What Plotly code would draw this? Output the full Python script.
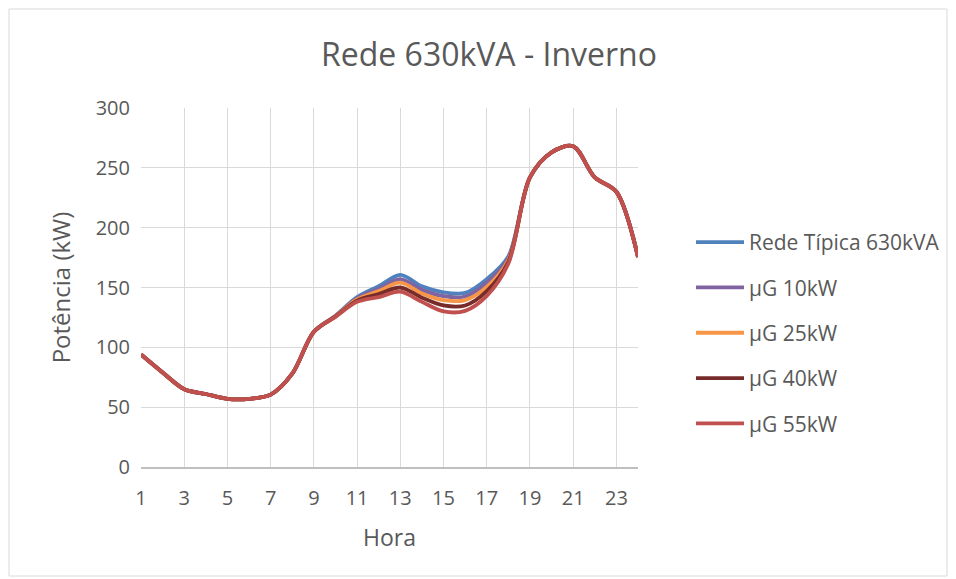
import plotly.graph_objects as go

hours = list(range(1, 25))
rede_tipica = [94, 79, 65, 61, 57, 57, 60.5, 78, 113, 126.5, 142, 151, 160.5, 151, 146, 145.5, 157, 176, 242, 263, 268, 242, 230, 175.5]
ug_10 = [94, 79, 65, 61, 57, 57, 60.5, 78, 113, 126.2, 141, 149, 157, 148, 142.7, 142.5, 154, 174.5, 242, 263, 268, 242, 230, 175.5]
ug_25 = [94, 79, 65, 61, 57, 57, 60.5, 78, 113, 126, 140, 147, 154, 145, 139.4, 139.5, 150.5, 173, 242, 263, 268, 242, 230, 175.5]
ug_40 = [94, 79, 65, 61, 57, 57, 60.5, 78, 113, 125.8, 139, 144.5, 150, 141.5, 135, 135, 147, 171.5, 242, 263, 268, 242, 230, 175.5]
ug_55 = [94, 79, 65, 61, 57, 57, 60.5, 78, 113, 125.5, 138, 142, 146.5, 138, 130, 130.5, 143, 170, 242, 263, 268, 242, 230, 175.5]

series_names = ["Rede Típica 630kVA", "µG 10kW", "µG 25kW", "µG 40kW", "µG 55kW"]
series_values = [rede_tipica, ug_10, ug_25, ug_40, ug_55]
colors = ["#4f81bd", "#8064a2", "#f79646", "#772c2a", "#c0504d"]

x_ticks = list(range(1, 25, 2))
y_ticks = list(range(0, 301, 50))

fig = go.Figure()
for i, (name, vals, col) in enumerate(zip(series_names, series_values, colors)):
    fig.add_trace(go.Scatter(
        x=hours, y=vals, name=name, mode="lines",
        line=dict(color=col, width=3.8, shape="spline", smoothing=0.9),
        legendgroup=f"g{i}",
    ))

# page offset of 8px (body margin)
OFF = 8
L, R, T, B = 141, 638, 108, 467
W, H = 956, 579

def px(x):
    return (x - L) / (R - L)

def py(y):
    return (B - y) / (B - T)

fig.add_shape(type="rect", xref="paper", yref="paper",
              x0=px(9), x1=px(947), y0=py(576), y1=py(9),
              line=dict(color="#d9d9d9", width=1), layer="below")

fig.update_layout(
    width=W, height=H,
    margin=dict(l=L - OFF, r=W - R + OFF, t=T - OFF, b=H - B + OFF),
    paper_bgcolor="white", plot_bgcolor="white",
    font=dict(family="Open Sans", color="#595959", size=20),
    title=dict(text="Rede 630kVA - Inverno", x=(489 - OFF) / W, xanchor="center",
               xref="container", y=1 - (55 - OFF) / H, yanchor="middle", yref="container",
               font=dict(size=32, color="#595959")),
    showlegend=True,
    legend=dict(x=px(691), y=py(222), xanchor="left", yanchor="top",
                font=dict(size=21, color="#595959"), tracegroupgap=15,
                itemwidth=48, bgcolor="rgba(0,0,0,0)"),
    xaxis=dict(range=[1, 24], tickmode="array", tickvals=x_ticks,
               showgrid=True, gridcolor="#d9d9d9", gridwidth=1.2,
               showline=True, linecolor="#bfbfbf", linewidth=1.5,
               zeroline=False, ticks="", ticklabelstandoff=12,
               tickfont=dict(size=20, color="#595959"),
               title=dict(text="Hora", font=dict(size=23, color="#595959"), standoff=20)),
    yaxis=dict(range=[0, 300], tickmode="array", tickvals=y_ticks,
               showgrid=True, gridcolor="#d9d9d9", gridwidth=1.2,
               showline=False, zeroline=False, ticks="", ticklabelstandoff=10,
               tickfont=dict(size=20, color="#595959"),
               title=dict(text="Potência (kW)", font=dict(size=24, color="#595959"), standoff=18)),
)

fig.write_html("out.html")
